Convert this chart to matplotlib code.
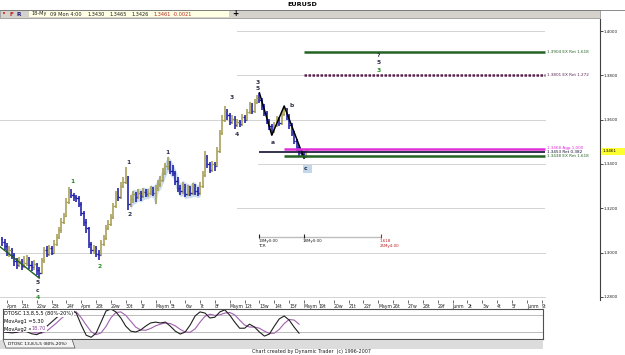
import matplotlib
matplotlib.use('Agg')
import matplotlib.pyplot as plt
from matplotlib.patches import Rectangle, Polygon
from matplotlib.lines import Line2D
import numpy as np

# EURUSD 4-hour bars, 20 Apr 2009 -> 18 May 2009 4:00 (bar 2 = 20 Apr 0:00)
first_open = 1.3060
bar_close = [
    1.3050, 1.3030, 1.3000, 1.3010, 1.2990, 1.2960, 1.2945, 1.2960, 1.2940, 1.2955,
    1.2970, 1.2945, 1.2935, 1.2950, 1.2920, 1.2910, 1.2965, 1.3010, 1.2995, 1.3020,
    1.3000, 1.3040, 1.3070, 1.3100, 1.3140, 1.3165, 1.3230, 1.3275, 1.3260, 1.3250,
    1.3245, 1.3220, 1.3180, 1.3140, 1.3110, 1.3040, 1.3010, 1.3020, 1.2995, 1.2990,
    1.3040, 1.3065, 1.3110, 1.3130, 1.3160, 1.3210, 1.3260, 1.3250, 1.3300, 1.3320,
    1.3340, 1.3220, 1.3240, 1.3265, 1.3250, 1.3270, 1.3255, 1.3275, 1.3265, 1.3270,
    1.3285, 1.3270, 1.3290, 1.3310, 1.3330, 1.3360, 1.3390, 1.3400, 1.3370, 1.3360,
    1.3325, 1.3290, 1.3280, 1.3300, 1.3265, 1.3290, 1.3270, 1.3300, 1.3280, 1.3270,
    1.3300, 1.3350, 1.3430, 1.3400, 1.3375, 1.3400, 1.3390, 1.3460, 1.3540, 1.3600,
    1.3640, 1.3620, 1.3590, 1.3605, 1.3575, 1.3590, 1.3580, 1.3610, 1.3600, 1.3635,
    1.3665, 1.3640, 1.3680, 1.3700, 1.3690, 1.3660, 1.3630, 1.3595, 1.3570, 1.3550,
    1.3575, 1.3600, 1.3585, 1.3625, 1.3650, 1.3615, 1.3575, 1.3540, 1.3505, 1.3475,
    1.3450, 1.3445, 1.3430, 1.3461]
bar_high = [
    1.3070, 1.3060, 1.3045, 1.3030, 1.3020, 1.3000, 1.2975, 1.2980, 1.2970, 1.2985,
    1.2990, 1.2980, 1.2960, 1.2965, 1.2955, 1.2935, 1.2975, 1.3025, 1.3030, 1.3035,
    1.3030, 1.3055, 1.3085, 1.3115, 1.3155, 1.3180, 1.3245, 1.3296, 1.3285, 1.3270,
    1.3260, 1.3255, 1.3230, 1.3190, 1.3150, 1.3115, 1.3050, 1.3035, 1.3030, 1.3010,
    1.3055, 1.3080, 1.3125, 1.3145, 1.3175, 1.3225, 1.3280, 1.3290, 1.3320, 1.3340,
    1.3387, 1.3345, 1.3260, 1.3280, 1.3275, 1.3285, 1.3280, 1.3290, 1.3285, 1.3285,
    1.3300, 1.3295, 1.3305, 1.3330, 1.3345, 1.3380, 1.3405, 1.3432, 1.3415, 1.3395,
    1.3370, 1.3340, 1.3305, 1.3320, 1.3310, 1.3305, 1.3300, 1.3315, 1.3310, 1.3295,
    1.3320, 1.3370, 1.3460, 1.3440, 1.3410, 1.3415, 1.3410, 1.3475, 1.3555, 1.3620,
    1.3660, 1.3650, 1.3630, 1.3620, 1.3615, 1.3605, 1.3600, 1.3625, 1.3620, 1.3650,
    1.3680, 1.3675, 1.3695, 1.3710, 1.3721, 1.3700, 1.3670, 1.3640, 1.3605, 1.3580,
    1.3590, 1.3615, 1.3610, 1.3640, 1.3662, 1.3655, 1.3625, 1.3585, 1.3550, 1.3515,
    1.3485, 1.3465, 1.3458, 1.3465]
bar_low = [
    1.3030, 1.3010, 1.2985, 1.2980, 1.2970, 1.2940, 1.2925, 1.2935, 1.2920, 1.2930,
    1.2940, 1.2925, 1.2915, 1.2920, 1.2900, 1.2885, 1.2905, 1.2955, 1.2980, 1.2985,
    1.2990, 1.2995, 1.3030, 1.3060, 1.3090, 1.3130, 1.3160, 1.3220, 1.3245, 1.3235,
    1.3230, 1.3205, 1.3165, 1.3120, 1.3090, 1.3020, 1.2995, 1.2995, 1.2980, 1.2967,
    1.2985, 1.3030, 1.3055, 1.3100, 1.3120, 1.3150, 1.3200, 1.3235, 1.3240, 1.3290,
    1.3310, 1.3192, 1.3205, 1.3225, 1.3230, 1.3240, 1.3235, 1.3245, 1.3250, 1.3250,
    1.3260, 1.3255, 1.3220, 1.3280, 1.3295, 1.3320, 1.3350, 1.3375, 1.3355, 1.3345,
    1.3305, 1.3275, 1.3260, 1.3265, 1.3250, 1.3255, 1.3255, 1.3260, 1.3260, 1.3255,
    1.3260, 1.3290, 1.3340, 1.3380, 1.3360, 1.3365, 1.3370, 1.3385, 1.3450, 1.3530,
    1.3590, 1.3600, 1.3575, 1.3580, 1.3560, 1.3565, 1.3565, 1.3570, 1.3585, 1.3595,
    1.3625, 1.3625, 1.3630, 1.3670, 1.3675, 1.3645, 1.3615, 1.3580, 1.3555, 1.3530,
    1.3540, 1.3565, 1.3570, 1.3575, 1.3615, 1.3600, 1.3560, 1.3525, 1.3490, 1.3460,
    1.3438, 1.3432, 1.3426, 1.3426]

date_labels = ["Apm", "21t", "22w", "23t", "24f", "Apm", "28t", "29w", "30t", "1f",
               "Maym", "5t", "6w", "7t", "8f", "Maym", "12t", "13w", "14t", "15f",
               "Maym", "19t", "20w", "21t", "22f", "Maym", "26t", "27w", "28t", "29f",
               "Junm", "2t", "3w", "4t", "5f", "Junm", "9t"]

price_ticks = [1.28, 1.30, 1.32, 1.34, 1.36, 1.38, 1.40]

# DTOSC 13,8,5,5 values every 2 bars from bar 0
osc_fast = [22, 20, 18, 20, 28, 22, 15, 12, 20, 40, 55, 70, 85, 95, 97,
            86, 45, 10, 3, 17, 55, 93, 100, 90, 69, 41, 24, 21, 28, 41,
            52, 55, 52, 55, 41, 24, 14, 21, 45, 76, 90, 86, 69, 72, 90,
            97, 79, 55, 34, 34, 48, 38, 21, 7, 14, 41, 66, 76, 62, 38, 17]
osc_slow = [20, 20, 20, 20, 22, 24, 22, 18, 17, 24, 38, 52, 68, 82, 92,
            90, 70, 45, 22, 12, 18, 40, 70, 88, 90, 78, 58, 38, 28, 27,
            33, 42, 48, 52, 50, 42, 30, 21, 20, 32, 55, 75, 82, 78, 80,
            86, 88, 80, 62, 45, 38, 38, 34, 24, 16, 17, 30, 50, 64, 62, 48]

# Fibonacci price levels: value, label, colour, first bar
fib_levels = [1.3904, 1.3801, 1.3468, 1.3453, 1.3438]
fib_names = ["1.3904 EX Ret 1.618", "1.3801 EX Ret 1.272", "1.3468 Agp 1.000",
             "1.3453 Ret 0.382", "1.3438 EX Ret 1.618"]
fib_colors = ["#236323", "#5a2452", "#e030d8", "#101030", "#236323"]
fib_start = [122, 122, 114, 104, 114]

# zig-zag a-b-c and starting trend line
zig_bar = [104, 109, 114, 122]
zig_price = [1.3721, 1.3530, 1.3662, 1.3426]
trend_bar = [-1, 15]
trend_price = [1.3028, 1.2885]

# wave labels: bar, price, text, colour
wave_bar = [14.5, 14.5, 14.5, 28.3, 39.6, 50.9, 51.7, 67, 92.9, 94.9, 103.4, 103.4, 109.5, 117.2,
            152, 152, 152]
wave_price = [1.2863, 1.2828, 1.2797, 1.3323, 1.2935, 1.3405, 1.3170, 1.3454, 1.3698, 1.3531,
              1.3766, 1.3743, 1.3499, 1.3662, 1.3892, 1.3856, 1.3820]
wave_text = ["5", "c", "4", "1", "2", "1", "2", "1", "3", "4", "3", "5", "a", "b", "?", "5", "3"]
wave_green = [False, False, True, True, True, False, False, False, False, False, False, False,
              False, False, False, False, True]

# time bars
time_bar = [104, 122, 153]
time_top = ["13My0:00", "18My0:00", "1.618"]
time_bottom = ["TCR", "", "25My4:00"]
time_level = 1.3070

W, H = 625, 355


def fx(px):
    return px / W


def fy(py):
    return 1 - py / H


def bar_at(px):
    return 2 + (px - 7) / 2.475


def price_at(py):
    return 1.34 + (164 - py) / 2215.0


def frect(x0, y0, x1, y1, **kw):
    fig.patches.append(Rectangle((fx(x0), fy(y1)), fx(x1) - fx(x0), fy(y0) - fy(y1),
                                 transform=fig.transFigure, **kw))


fig = plt.figure(figsize=(6.25, 3.55), dpi=100)
fig.patch.set_facecolor('white')

# ---- header ----
fig.lines.append(Line2D([0, 1], [fy(9.5), fy(9.5)], transform=fig.transFigure, color='#777777', lw=0.6))
frect(0, 10, 600, 18, fc='#d5d2cc', ec='#8a8a8a', lw=0.5)
frect(29, 10.8, 229, 17.2, fc='#ffffe4', ec='none')
fig.text(fx(302), fy(5), "EURUSD", fontsize=4.6, fontweight='bold', ha='center', va='center')
fig.text(fx(4), fy(14.3), "\u2022", fontsize=5, color='#d02020', ha='center', va='center')
fig.text(fx(12), fy(14), "F", fontsize=4.2, color='#c02020', fontweight='bold', ha='center', va='center')
fig.text(fx(18.5), fy(14), "R", fontsize=4.2, color='#202080', fontweight='bold', ha='center', va='center')
info = [(31, "18-My"), (50, "09 Mon 4:00"), (87, "1.3430"), (109, "1.3465"), (131, "1.3426")]
for xp, s in info:
    fig.text(fx(xp), fy(14), s, fontsize=3.6, color='#202020', va='center')
fig.text(fx(153), fy(14), "1.3461", fontsize=3.6, color='#b02a20', va='center')
fig.text(fx(173), fy(14), "-0.0021", fontsize=3.6, color='#b02a20', va='center')
fig.text(fx(235), fy(14), "+", fontsize=5.5, fontweight='bold', ha='center', va='center')

# ---- main price panel ----
ax = fig.add_axes([0, fy(300), fx(600), (300 - 19) / H])
ax.set_xlim(bar_at(0), bar_at(600))
ax.set_ylim(price_at(300), price_at(19))
for s in ['top', 'left', 'bottom']:
    ax.spines[s].set_visible(False)
ax.spines['right'].set_color('#404040')
ax.spines['right'].set_linewidth(0.8)

grid_from = [0, 0, 237, 258, 0, 237, 237]
for lev, start in zip(price_ticks, grid_from):
    ax.hlines(lev, bar_at(start), bar_at(545), colors='#9a9a9a', lw=0.6, linestyles=(0, (1.2, 1.2)), zorder=1)

x = np.arange(len(bar_close))
opens = np.array([first_open] + bar_close[:-1])
closes = np.array(bar_close)
highs = np.array(bar_high)
lows = np.array(bar_low)
cols = np.where(closes >= opens, '#a59e55', '#1c1ca8')

# light blue congestion shading
sh = slice(52, 81)
ax.fill_between(x[sh], lows[sh] - 0.0007, highs[sh] + 0.0007, color='#c9dbec', lw=0, zorder=2)

ax.vlines(x, lows, highs, colors=cols, lw=1.15, zorder=3)
ax.hlines(opens, x - 0.55, x, colors=cols, lw=0.9, zorder=3)
ax.hlines(closes, x, x + 0.55, colors=cols, lw=0.9, zorder=3)

ax.plot(zig_bar, zig_price, color='black', lw=1.1, zorder=4)
ax.plot(trend_bar, trend_price, color='#1f5f1f', lw=1.0, zorder=4)

end_bar = bar_at(545)
for lev, name, c, st in zip(fib_levels, fib_names, fib_colors, fib_start):
    ls = (0, (1, 0.6)) if name.startswith("1.3801") else '-'
    lw = 1.2 if name.startswith("1.3453") else 1.8
    ax.hlines(lev, st, end_bar, colors=c, lw=lw, linestyles=ls, zorder=5)
offs = [0, 0, 0.0005, 0, -0.0004]
for lev, name, c, o in zip(fib_levels, fib_names, fib_colors, offs):
    ax.text(end_bar + 0.8, lev + o, name, fontsize=3.0, color=c, va='center', ha='left', zorder=6)

for b, p, t, g in zip(wave_bar, wave_price, wave_text, wave_green):
    ax.text(b, p, t, fontsize=4.3, fontweight='bold', color='#2a8a2a' if g else '#30304a',
            ha='center', va='center', zorder=7)
# blue box at the final c
ax.add_patch(Rectangle((zig_bar[-1] - 0.3, price_at(173)), 3.4, price_at(165) - price_at(173),
                       fc='#c3d7ea', ec='none', zorder=2))
ax.text(zig_bar[-1] + 0.6, price_at(168), "c", fontsize=4.3, fontweight='bold', color='#30304a',
        ha='center', va='center', zorder=7)

# time projection bar
ax.hlines(time_level, time_bar[0], time_bar[-1], colors='#bdbdbd', lw=1.0, zorder=2)
for b, t1, t2 in zip(time_bar, time_top, time_bottom):
    c = '#c02020' if t1 == "1.618" else '#202020'
    ax.vlines(b, time_level - 0.0003, time_level + 0.0012, colors=c, lw=0.8, zorder=3)
    ax.text(b - 0.5, time_level - 0.0009, t1, fontsize=2.9, color=c, ha='left', va='top')
    if t2:
        ax.text(b - 0.5, time_level - 0.0033, t2, fontsize=2.9, color=c, ha='left', va='top')

# date axis
ax.set_xticks(2 + 6 * np.arange(len(date_labels)))
ax.set_xticklabels(date_labels, fontsize=3.3, color='#202020')
for lab in ax.get_xticklabels():
    lab.set_ha('left')
ax.tick_params(axis='x', length=2.5, width=0.5, pad=0.6, color='#303030')

# price axis
ax.yaxis.tick_right()
ax.set_yticks(price_ticks)
ax.set_yticklabels(['%.4f' % v for v in price_ticks], fontsize=3.0, color='#202020')
ax.tick_params(axis='y', length=2, width=0.5, pad=0.8)

# last price tag
frect(601, 147.5, 625, 155, fc='#ffff30', ec='none', zorder=5)
fig.text(fx(603), fy(151.2), '%.4f' % bar_close[-1], fontsize=3.0, va='center', zorder=6)

# ---- oscillator panel ----
ox = fig.add_axes([fx(3), fy(339), fx(543) - fx(3), (339 - 309) / H])
ox.set_xlim(bar_at(3), bar_at(543))
ox.set_ylim(-3, 100)
ox.set_xticks([])
ox.set_yticks([])
for s in ox.spines.values():
    s.set_color('#505050')
    s.set_linewidth(0.8)
ox.axhline(80, color='#a0a0a0', lw=0.5)
ox.axhline(20, color='#a0a0a0', lw=0.5)
ob = np.arange(len(osc_fast)) * 2
ox.plot(ob, osc_slow, color='#a060b0', lw=0.8)
ox.plot(ob, osc_fast, color='#202020', lw=0.8)

wb = dict(fc='white', ec='none', pad=0.4)
fig.text(fx(4.5), fy(313.5), "DTOSC 13,8,5,5 (80%-20%)", fontsize=3.6, va='center', bbox=wb)
fig.text(fx(4.5), fy(321.5), "MovAvg1 =5.30", fontsize=3.6, va='center', bbox=wb)
fig.text(fx(4.5), fy(329), "MovAvg2 =", fontsize=3.6, va='center', bbox=wb)
fig.text(fx(32), fy(329), "18.70", fontsize=3.6, color='#9040a0', va='center', bbox=wb)

# ---- tab strip and footer ----
frect(0, 340, 543, 349, fc='#dcdcdc', ec='none')
fig.patches.append(Polygon([(fx(3), fy(339.5)), (fx(72), fy(339.5)), (fx(75), fy(348)), (fx(6), fy(348))],
                           closed=True, fc='#f4f4f4', ec='#505050', lw=0.5, transform=fig.transFigure))
fig.text(fx(8), fy(344), "DTOSC 13,8,5,5 (80%-20%)", fontsize=3.1, va='center')
fig.text(fx(311), fy(351.5), "Chart created by Dynamic Trader  (c) 1996-2007", fontsize=3.5,
         ha='center', va='center', color='#202020')

fig.savefig('out.png', dpi=100)
